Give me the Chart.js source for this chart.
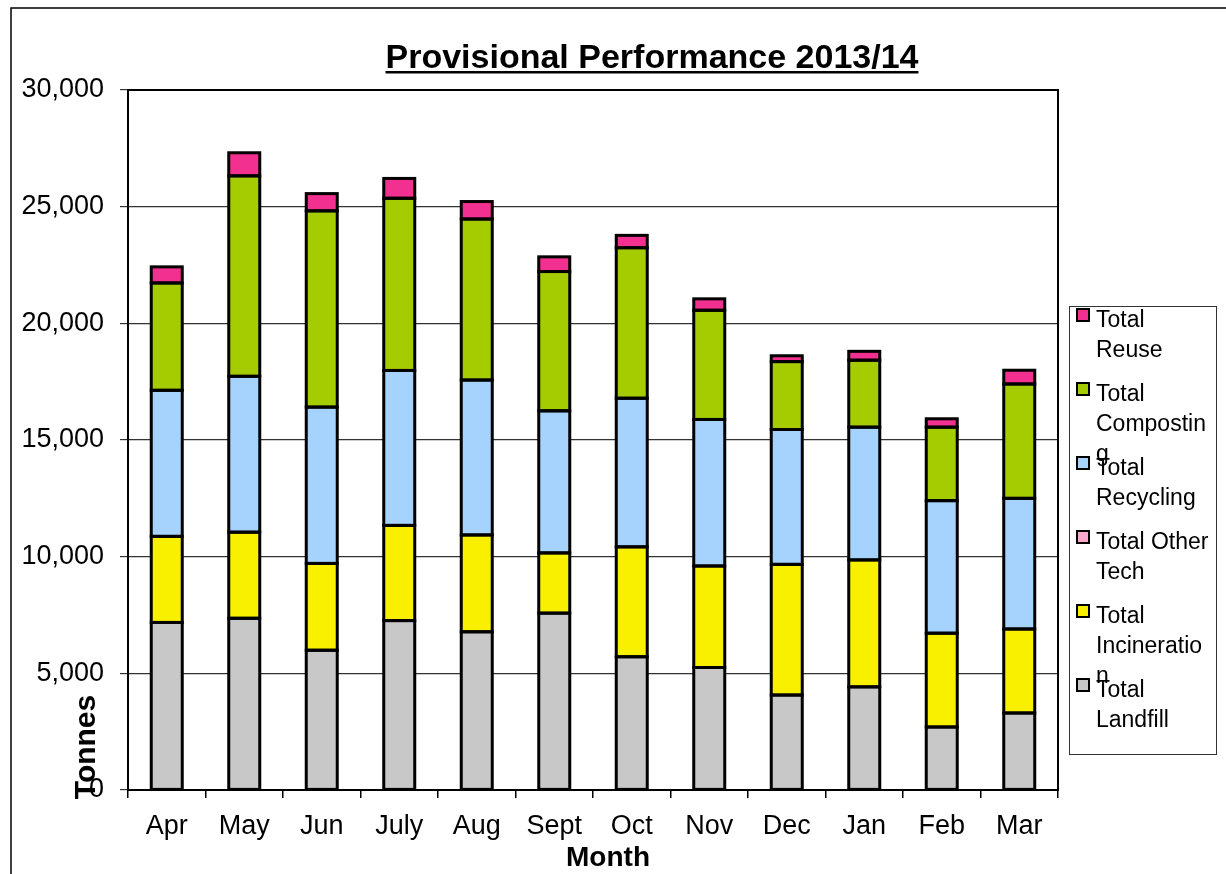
<!DOCTYPE html>
<html>
<head>
<meta charset="utf-8">
<script src="https://cdn.jsdelivr.net/npm/chart.js@4.4.1/dist/chart.umd.min.js"></script>
<style>
  html, body { margin: 0; padding: 0; background: #fff; }
  #wrap { position: relative; width: 1226px; height: 874px; }
</style>
</head>
<body>
<div id="wrap"><canvas id="perfChart" width="1226" height="874"></canvas></div>
<script>
// Data (tonnes)
const months = ['Apr', 'May', 'Jun', 'July', 'Aug', 'Sept', 'Oct', 'Nov', 'Dec', 'Jan', 'Feb', 'Mar'];
const landfill     = [7180, 7360, 5990, 7260, 6780, 7580, 5710, 5250, 4070, 4420, 2700, 3300];
const incineration = [3690, 3690, 3720, 4080, 4150, 2580, 4710, 4350, 5600, 5440, 4020, 3600];
const otherTech    = [0, 0, 0, 0, 0, 0, 0, 0, 0, 0, 0, 0];
const recycling    = [6260, 6680, 6700, 6640, 6640, 6090, 6370, 6280, 5780, 5690, 5680, 5600];
const composting   = [4600, 8590, 8410, 7380, 6900, 5970, 6450, 4680, 2910, 2870, 3150, 4900];
const reuse        = [690, 990, 740, 850, 750, 630, 530, 490, 250, 380, 360, 590];
const yTicks = [0, 5000, 10000, 15000, 20000, 25000, 30000];

// legend entries, top to bottom, with the original line breaks
const legendItems = [
  { color: '#F2308F', lines: ['Total', 'Reuse'] },
  { color: '#A5CC00', lines: ['Total', 'Compostin', 'g'] },
  { color: '#A6D3FE', lines: ['Total', 'Recycling'] },
  { color: '#F9A8CC', lines: ['Total Other', 'Tech'] },
  { color: '#F9F000', lines: ['Total', 'Incineratio', 'n'] },
  { color: '#C8C8C8', lines: ['Total', 'Landfill'] }
];

const FONT = '"Liberation Sans", Arial, sans-serif';

function ds(label, data, color) {
  return {
    label: label,
    data: data,
    backgroundColor: color,
    borderWidth: 0,
    inflateAmount: 0,
    categoryPercentage: 1,
    barPercentage: 0.40
  };
}

// black outline round every bar segment, taken from the bar elements
const outlines = {
  id: 'outlines',
  afterDatasetsDraw(chart) {
    const c = chart.ctx;
    c.save();
    c.strokeStyle = '#000';
    c.lineWidth = 3;
    chart.data.datasets.forEach((d, i) => {
      chart.getDatasetMeta(i).data.forEach(el => {
        const p = el.getProps(['x', 'y', 'base', 'width'], true);
        const h = Math.abs(p.base - p.y);
        if (h < 0.5) return;
        c.strokeRect(p.x - p.width / 2, Math.min(p.y, p.base), p.width, h);
      });
    });
    c.restore();
  }
};

// frame, titles, plot border and legend
const decor = {
  id: 'decor',
  beforeDraw(chart) {
    const c = chart.ctx;
    c.save();
    c.fillStyle = '#fff';
    c.fillRect(0, 0, chart.width, chart.height);
    c.strokeStyle = '#000';
    c.lineWidth = 1.5;
    c.beginPath();
    c.moveTo(11, 874);
    c.lineTo(11, 8);
    c.lineTo(1226, 8);
    c.stroke();
    c.restore();
  },
  afterDraw(chart) {
    const c = chart.ctx;
    const a = chart.chartArea;
    c.save();
    // plot border
    c.strokeStyle = '#000';
    c.lineWidth = 2;
    c.strokeRect(a.left, a.top, a.right - a.left, a.bottom - a.top);

    // title
    c.fillStyle = '#000';
    c.font = 'bold 34px ' + FONT;
    c.textAlign = 'center';
    c.textBaseline = 'alphabetic';
    const title = 'Provisional Performance 2013/14';
    c.fillText(title, 652, 68);
    const tw = c.measureText(title).width;
    c.fillRect(652 - tw / 2, 71, tw, 2.5);

    // axis titles
    c.font = 'bold 28px ' + FONT;
    c.fillText('Month', 608, 866);
    c.font = 'bold 30px ' + FONT;
    c.save();
    c.translate(95, 747);
    c.rotate(-Math.PI / 2);
    c.fillText('Tonnes', 0, 0);
    c.restore();

    // legend
    c.fillStyle = '#fff';
    c.fillRect(1069, 306, 148, 449);
    c.strokeStyle = '#333';
    c.lineWidth = 1;
    c.strokeRect(1069.5, 306.5, 147, 448);
    c.font = '23px ' + FONT;
    c.textAlign = 'left';
    legendItems.forEach((it, i) => {
      const base = 327 + i * 74;
      c.fillStyle = it.color;
      c.fillRect(1077, base - 18, 12, 12);
      c.strokeStyle = '#000';
      c.lineWidth = 2;
      c.strokeRect(1077, base - 18, 12, 12);
      c.fillStyle = '#000';
      it.lines.forEach((ln, j) => c.fillText(ln, 1096, base + j * 30));
    });
    c.restore();
  }
};

new Chart(document.getElementById('perfChart'), {
  type: 'bar',
  data: {
    labels: months,
    datasets: [
      ds('Total Landfill', landfill, '#C8C8C8'),
      ds('Total Incineration', incineration, '#F9F000'),
      ds('Total Other Tech', otherTech, '#F9A8CC'),
      ds('Total Recycling', recycling, '#A6D3FE'),
      ds('Total Composting', composting, '#A5CC00'),
      ds('Total Reuse', reuse, '#F2308F')
    ]
  },
  options: {
    responsive: false,
    animation: false,
    layout: { padding: { left: 0, top: 90, right: 168, bottom: 0 } },
    plugins: {
      legend: { display: false },
      title: { display: false },
      tooltip: { enabled: false }
    },
    scales: {
      x: {
        stacked: true,
        afterFit: s => { s.height = 84; },
        border: { color: '#000', width: 2 },
        grid: { drawOnChartArea: false, drawTicks: true, tickLength: 8, color: '#000', lineWidth: 1.5 },
        ticks: { color: '#000', padding: 12, font: { family: FONT, size: 27 } }
      },
      y: {
        stacked: true,
        min: 0,
        max: 30000,
        afterFit: s => { s.width = 128; },
        afterBuildTicks: s => { s.ticks = yTicks.map(v => ({ value: v })); },
        border: { color: '#000', width: 2 },
        grid: { color: '#333', lineWidth: 1.2, tickLength: 8 },
        ticks: {
          color: '#000',
          padding: 16,
          font: { family: FONT, size: 27 },
          callback: v => v.toLocaleString('en-US')
        }
      }
    }
  },
  plugins: [outlines, decor]
});
</script>
</body>
</html>
